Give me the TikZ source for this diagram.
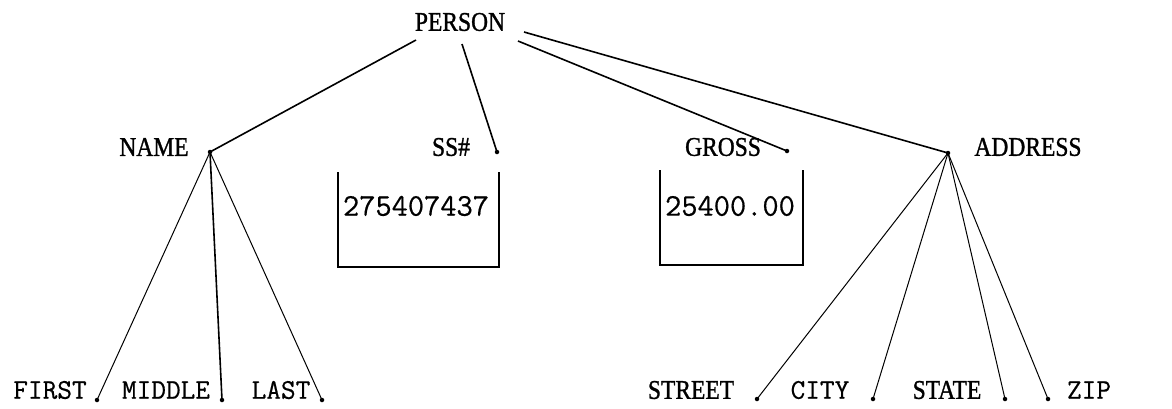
\documentclass[tikz,border=0pt]{standalone}
\usepackage{fontspec}
\newfontfamily\lblfont[FakeBold=1.2]{Liberation Serif}
\newfontfamily\monofont[FakeBold=0.5]{Latin Modern Mono}
\newcommand{\tallbox}[1]{\scalebox{1}[1.15]{#1}}
\tikzset{
  lbl/.style={font=\lblfont\fontsize{23.5}{24}\selectfont, inner sep=0pt},
  tt/.style={font=\monofont\fontsize{28.5}{30}\selectfont, inner sep=0pt},
  num/.style={font=\monofont\fontsize{31.5}{32}\selectfont, inner sep=0pt},
  dot/.style={circle, fill=black, inner sep=0pt, minimum size=4.5pt},
  thick line/.style={line width=1.6pt},
  thin line/.style={line width=1.0pt},
  boxline/.style={line width=1.8pt}
}
\begin{document}
\begin{tikzpicture}[x=1pt,y=-1pt]
\useasboundingbox (0,0) rectangle (1172,408);
% top
\node[lbl] (person) at (460,22) {\tallbox{PERSON}};
\coordinate (p1) at (416,40);
\coordinate (p2) at (462,44);
\coordinate (p3) at (518,41);
\coordinate (p4) at (524,32);
% second level
\node[lbl] (name) at (154,147) {\tallbox{NAME}};
\node[dot] (named) at (210,152) {};
\node[lbl] (ss) at (451,147) {\tallbox{SS\#}};
\node[dot] (ssd) at (497,152) {};
\node[lbl] (gross) at (723,147) {\tallbox{GROSS}};
\node[dot] (grossd) at (787,151) {};
\node[lbl] (address) at (1028,147) {\tallbox{ADDRESS}};
\node[dot] (addrd) at (948,153) {};
% boxes
\node[num] (ssval) at (416,206) {275407437};
\draw[boxline] (338,172) -- (338,267) -- (499,267) -- (499,172);
\node[num] (grossval) at (730,206) {25400.00};
\draw[boxline] (660,170) -- (660,265) -- (803,265) -- (803,170);
% bottom
\node[tt] (first) at (50,390) {FIRST};
\node[dot] (firstd) at (97,400) {};
\node[tt] (middle) at (166,390) {MIDDLE};
\node[dot] (middled) at (222,400) {};
\node[tt] (last) at (281,390) {LAST};
\node[dot] (lastd) at (322,400) {};
\node[lbl] (street) at (691,390) {\tallbox{STREET}};
\node[dot] (streetd) at (757,399) {};
\node[tt] (city) at (820,390) {CITY};
\node[dot] (cityd) at (873,399) {};
\node[lbl] (state) at (947,390) {\tallbox{STATE}};
\node[dot] (stated) at (1005,399) {};
\node[dot] (zipd) at (1048,399) {};
\node[tt] (zip) at (1089,390) {ZIP};
% connectors
\draw[thick line] (p1) -- (named.center);
\draw[thick line] (p2) -- (ssd.center);
\draw[thick line] (p3) -- (grossd.center);
\draw[thick line] (p4) -- (addrd.center);
\draw[thin line] (named.center) -- (firstd.center);
\draw[thick line] (named.center) -- (middled.center);
\draw[thin line] (named.center) -- (lastd.center);
\draw[thin line] (addrd.center) -- (streetd.center);
\draw[thin line] (addrd.center) -- (cityd.center);
\draw[thin line] (addrd.center) -- (stated.center);
\draw[thin line] (addrd.center) -- (zipd.center);
\end{tikzpicture}
\end{document}
